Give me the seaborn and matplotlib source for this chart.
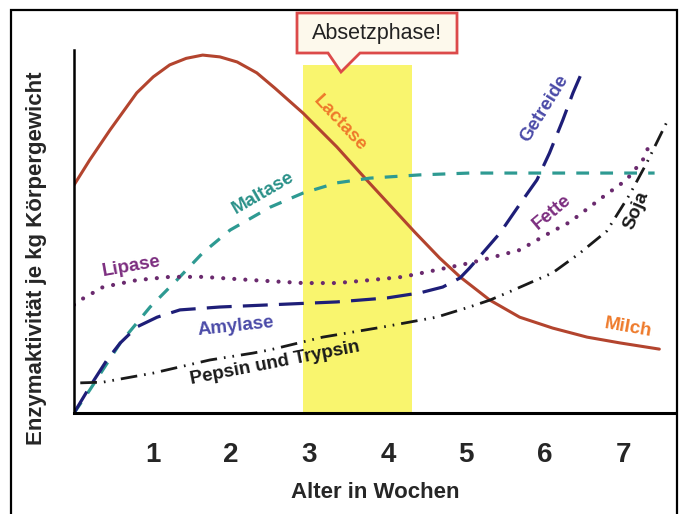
import seaborn as sns
import matplotlib.pyplot as plt
from matplotlib.patches import Polygon, Rectangle

# Werte (x = Alter in Wochen, y = relative Enzymaktivitaet 0..100)
lactase_x = [0, 0.20, 0.46, 0.80, 1.01, 1.22, 1.43, 1.64, 1.86, 2.08, 2.33, 2.56, 2.92, 3.35, 3.73, 4.34, 4.66, 4.92, 5.30, 5.68, 6.10, 6.54, 6.96, 7.46]
lactase_y = [62.8, 69.7, 78.0, 88.2, 92.6, 95.9, 97.7, 98.6, 98.1, 96.7, 93.7, 89.5, 82.6, 73.3, 64.2, 49.9, 42.7, 37.5, 31.1, 26.4, 23.4, 20.9, 19.3, 17.6]

maltase_x = [0, 0.20, 0.59, 0.97, 1.31, 1.64, 1.99, 2.50, 2.92, 3.35, 3.77, 4.41, 5.04, 6.19, 7.40]
maltase_y = [0, 6.3, 19.3, 29.2, 36.6, 44.1, 50.4, 56.7, 60.6, 63.4, 64.7, 65.6, 66.1, 66.1, 66.1]

lipase_x = [0, 0.08, 0.37, 0.80, 1.22, 1.64, 2.28, 2.92, 3.35, 3.77, 4.19, 4.62, 5.04, 5.30, 5.68, 6.06, 6.32, 6.74, 7.04, 7.25, 7.36]
lipase_y = [29.8, 31.1, 34.7, 36.6, 37.5, 37.5, 36.6, 35.8, 35.8, 36.6, 37.5, 39.4, 41.3, 42.7, 44.9, 49.6, 52.6, 59.5, 64.2, 69.7, 75.2]

amylase_x = [0, 0.20, 0.42, 0.59, 0.80, 1.06, 1.35, 1.86, 2.50, 3.35, 3.99, 4.41, 4.70, 4.92, 5.04, 5.21, 5.43, 5.72, 5.90, 6.06, 6.23, 6.36, 6.47]
amylase_y = [0, 7.2, 14.6, 19.3, 23.7, 26.4, 28.4, 29.2, 29.8, 30.6, 31.7, 33.1, 34.7, 37.2, 39.9, 44.1, 49.6, 58.7, 64.2, 71.6, 80.7, 88.2, 93.7]

pepsin_x = [0.08, 0.37, 1.01, 1.73, 2.28, 2.50, 3.17, 3.94, 4.62, 5.04, 5.30, 5.52, 6.10, 6.45, 6.79, 7.08, 7.30, 7.55]
pepsin_y = [8.3, 8.5, 11.0, 14.6, 16.5, 17.4, 20.9, 23.7, 26.4, 29.2, 31.1, 33.1, 38.6, 44.1, 50.1, 60.1, 68.9, 79.9]

weeks = [1, 2, 3, 4, 5, 6, 7]
weaning = (2.92, 4.31)

sns.set_style("white")
plt.rcParams['font.family'] = ['Liberation Sans', 'DejaVu Sans']

fig = plt.figure(figsize=(6.8, 5.14), dpi=100)
ax = fig.add_axes([74 / 680, 1 - 413 / 514, 601 / 680, 363 / 514])

# Absetzphase (gelber Balken)
ax.axvspan(weaning[0], weaning[1], ymin=0, ymax=0.959, color='#F9F56E', lw=0, zorder=0)

sns.lineplot(x=lactase_x, y=lactase_y, ax=ax, color='#B3442E', lw=2.2, sort=False, estimator=None)
sns.lineplot(x=maltase_x, y=maltase_y, ax=ax, color='#2E9A92', lw=2.3,
             linestyle=(0, (4, 3.5)), sort=False, estimator=None)
sns.lineplot(x=lipase_x, y=lipase_y, ax=ax, color='#6A2A6E', lw=3.0,
             linestyle=(0, (0.01, 2.65)), dash_capstyle='round', sort=False, estimator=None)
sns.lineplot(x=amylase_x, y=amylase_y, ax=ax, color='#1E1E78', lw=2.3,
             linestyle=(0, (7.8, 3.5)), sort=False, estimator=None)
sns.lineplot(x=pepsin_x, y=pepsin_y, ax=ax, color='#1a1a1a', lw=2.0,
             linestyle=(0, (6, 2.5, 0.6, 2.5, 0.6, 2.5)), sort=False, estimator=None)

ax.set_xlim(0, 7.66)
ax.set_ylim(0, 100)
ax.set_xticks(weeks)
ax.set_xticklabels([str(w) for w in weeks], fontsize=20, fontweight='bold')
ax.set_yticks([])
ax.tick_params(axis='x', length=0, pad=21)
sns.despine(ax=ax)
ax.spines['left'].set_linewidth(1.8)
ax.spines['bottom'].set_linewidth(2.2)
ax.spines['left'].set_color('black')
ax.spines['bottom'].set_color('black')

ax.set_xlabel('Alter in Wochen', fontsize=16, fontweight='bold', va='center')
ax.xaxis.set_label_coords(0.501, -0.218)
ax.set_ylabel('Enzymaktivität je kg Körpergewicht', fontsize=16, fontweight='bold', va='center')
ax.yaxis.set_label_coords(-0.0616, 0.427)

# Beschriftungen an den Kurven
labels = [
    ('Lactase', 3.39, 79.9, -47, '#EE7A2B'),
    ('Milch', 7.06, 23.4, -10, '#EE7A2B'),
    ('Maltase', 2.41, 60.6, 30, '#2A9189'),
    ('Lipase', 0.73, 40.5, 10, '#7C2E80'),
    ('Fette', 6.09, 55.4, 40, '#7C2E80'),
    ('Amylase', 2.06, 23.7, 6, '#4B4BA8'),
    ('Getreide', 6.00, 84.0, 58, '#4B4BA8'),
    ('Pepsin und Trypsin', 2.56, 13.8, 11, '#1a1a1a'),
    ('Soja', 7.17, 55.9, 67, '#1a1a1a'),
]
for txt, x, y, rot, col in labels:
    ax.text(x, y, txt, rotation=rot, rotation_mode='anchor', ha='center', va='center',
            fontsize=13.5, fontweight='bold', color=col)

# Sprechblase "Absetzphase!"
bubble = [(297, 13), (457, 13), (457, 53), (360, 53), (341, 72), (328, 53), (297, 53)]
fig.patches.append(Polygon([(px / 680, 1 - py / 514) for px, py in bubble], closed=True,
                           transform=fig.transFigure, facecolor='#FDF9EC', edgecolor='#DC4A4A',
                           lw=2, zorder=5))
fig.text(377 / 680, 1 - 33 / 514, 'Absetzphase!', ha='center', va='center', fontsize=15.5,
         color='#222222', zorder=6)

# Rahmen (unten abgeschnitten)
fig.patches.append(Rectangle((11 / 680, -0.02), 666 / 680, 1 - 10 / 514 + 0.02, transform=fig.transFigure,
                             fill=False, edgecolor='black', lw=1.6))

fig.savefig('out.png', dpi=100)
